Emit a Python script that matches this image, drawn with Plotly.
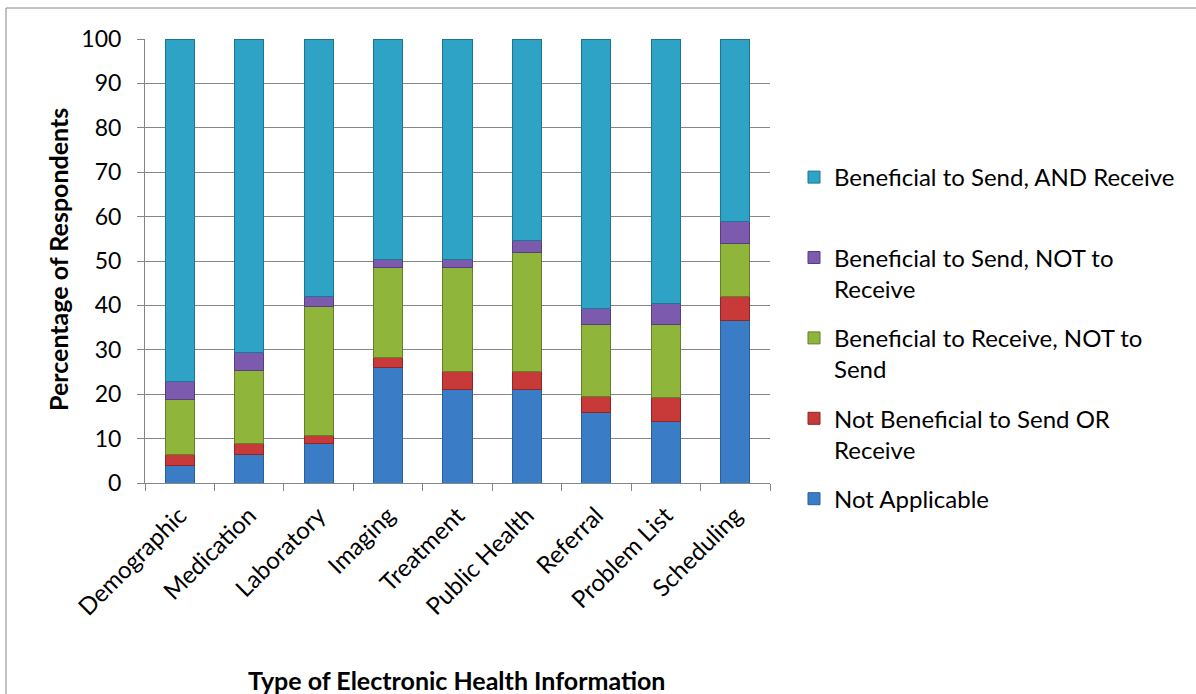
import plotly.graph_objects as go

categories = ["Demographic", "Medication", "Laboratory", "Imaging", "Treatment",
              "Public Health", "Referral", "Problem List", "Scheduling"]
not_applicable = [4, 6.5, 8.8, 26, 21, 21, 15.8, 13.9, 36.6]
not_beneficial = [2.5, 2.3, 1.9, 2.2, 4.2, 4.2, 3.7, 5.3, 5.4]
receive_not_send = [12.3, 16.5, 29.1, 20.4, 23.3, 26.7, 16.2, 16.5, 11.9]
send_not_receive = [4, 4, 2.2, 1.8, 1.9, 2.8, 3.6, 4.7, 5.0]
send_and_receive = [77.2, 70.7, 58.0, 49.6, 49.6, 45.3, 60.7, 59.6, 41.1]

series = [
    ("Not Applicable", not_applicable, "#3A7DC6", "#2A5F9A"),
    ("Not Beneficial to Send OR<br>Receive", not_beneficial, "#C8393A", "#8E2526"),
    ("Beneficial to Receive, NOT to<br>Send", receive_not_send, "#8FB53B", "#657F2A"),
    ("Beneficial to Send, NOT to<br>Receive", send_not_receive, "#7C5AAE", "#56407A"),
    ("Beneficial to Send, AND Receive<br> ", send_and_receive, "#2EA3C6", "#1F7590"),
]

FONT = "Lato, 'Open Sans', sans-serif"
fig = go.Figure()
n = len(series)
for i, (name, vals, col, edge) in enumerate(series):
    fig.add_trace(go.Bar(
        x=categories, y=vals, name=name, legendgroup="g%d" % i,
        legendrank=n - i,
        marker=dict(color=col, line=dict(color=edge, width=1)),
    ))

L, R, T, B = 145, 426, 39, 211
W, H = 1196, 694
pw, ph = W - L - R, H - T - B

def px(x):
    return (x - L) / pw

def py(y):
    return (H - B - y) / ph

fig.update_layout(
    width=W, height=H,
    barmode="stack", bargap=0.58,
    margin=dict(l=L, r=R, t=T, b=B),
    paper_bgcolor="white", plot_bgcolor="white",
    font=dict(family=FONT, size=20, color="black"),
    legend=dict(
        x=px(794), y=py(155), xanchor="left", yanchor="top",
        traceorder="grouped", font=dict(size=24), valign="top",
        tracegroupgap=15, itemwidth=30,
    ),
    xaxis=dict(
        tickangle=-45, tickson="boundaries", ticks="outside", ticklen=7,
        tickcolor="#868686", showline=True, linecolor="#868686",
        tickfont=dict(size=24), showgrid=False, ticklabelstandoff=8,
    ),
    yaxis=dict(
        range=[0, 100], dtick=10, ticks="outside", ticklen=7, tickcolor="#868686",
        showline=True, linecolor="#868686", gridcolor="#868686", gridwidth=1,
        tickfont=dict(size=23), zeroline=False, ticklabelstandoff=11,
    ),
    shapes=[dict(type="rect", xref="paper", yref="paper",
                 x0=px(6), x1=px(1205), y0=py(705), y1=py(8),
                 line=dict(color="#868686", width=1), layer="below")],
    annotations=[
        dict(text="<b>Type of Electronic Health Information</b>", xref="paper", yref="paper",
             x=px(456), y=py(680), showarrow=False, font=dict(size=25),
             xanchor="center", yanchor="middle"),
        dict(text="<b>Percentage of Respondents</b>", xref="paper", yref="paper",
             x=px(58), y=py(260), showarrow=False, textangle=-90, font=dict(size=25),
             xanchor="center", yanchor="middle"),
    ],
)

fig.write_html("out.html")
